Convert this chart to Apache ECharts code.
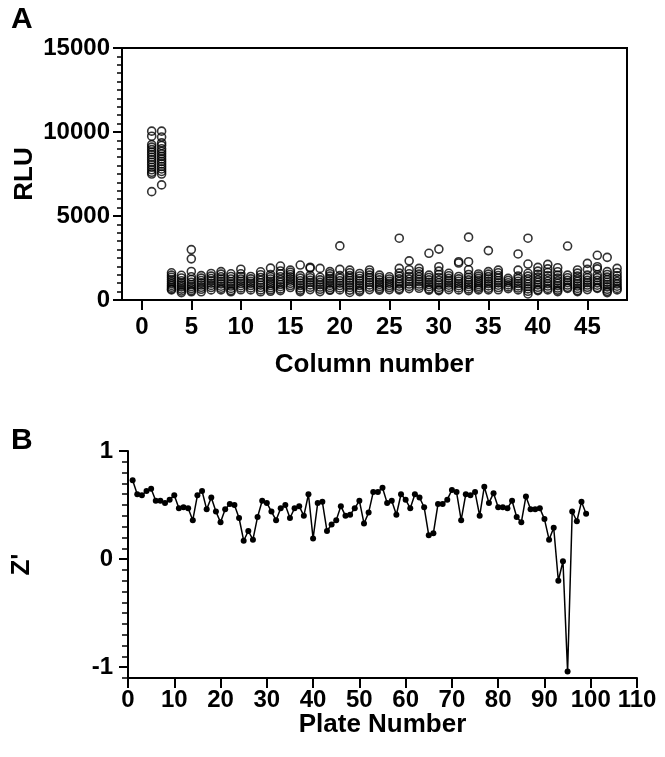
<!DOCTYPE html>
<html>
<head>
<meta charset="utf-8">
<script src="https://cdn.jsdelivr.net/npm/echarts@6/dist/echarts.min.js"></script>
<style>
  html, body { margin: 0; padding: 0; background: #fff; }
  #chart { width: 665px; height: 757px; }
</style>
</head>
<body>
<div id="chart"></div>
<script>
  // panel A: RLU per well, one list per column (column number = index + 1)
  const rluByColumn = [
    [10050, 9750, 9250, 9100, 8950, 8800, 8650, 8500, 8350, 8200, 8050, 7900, 7750, 7600, 7500, 6450],
    [10050, 9700, 9350, 9200, 9000, 8850, 8700, 8550, 8400, 8250, 8100, 7950, 7800, 7650, 7500, 6850],
    [1620, 1480, 1350, 1220, 1100, 980, 870, 760, 660, 600],
    [1470, 1310, 1150, 1020, 900, 780, 650, 540, 440],
    [3000, 2450, 1700, 1380, 1220, 1060, 920, 800, 680, 560, 490],
    [1450, 1300, 1160, 1020, 890, 760, 640, 490],
    [1580, 1420, 1280, 1140, 1000, 870, 740, 600],
    [1690, 1540, 1380, 1240, 1100, 960, 820, 700, 600],
    [1560, 1400, 1250, 1100, 960, 830, 690, 560, 490],
    [1830, 1560, 1400, 1250, 1120, 980, 850, 720, 610],
    [1400, 1260, 1120, 990, 860, 720, 600],
    [1680, 1500, 1340, 1180, 1030, 880, 740, 600, 490],
    [1900, 1520, 1380, 1250, 1120, 990, 860, 730, 610, 520],
    [2020, 1730, 1560, 1380, 1210, 1060, 920, 790, 660, 560],
    [1780, 1650, 1520, 1380, 1250, 1120, 990, 860, 740],
    [2080, 1450, 1300, 1150, 1000, 860, 720, 590, 500],
    [1950, 1900, 1460, 1320, 1180, 1040, 900, 760, 620],
    [1880, 1350, 1200, 1050, 910, 770, 640, 500],
    [1690, 1560, 1420, 1280, 1140, 1000, 870, 740, 620, 580],
    [3220, 1820, 1450, 1300, 1150, 1000, 860, 720, 600],
    [1780, 1620, 1450, 1300, 1160, 1020, 880, 740, 590, 450],
    [1580, 1430, 1280, 1140, 1000, 860, 720, 590, 500],
    [1790, 1640, 1480, 1330, 1180, 1040, 900, 760, 620],
    [1480, 1340, 1200, 1060, 930, 800, 680, 590],
    [1380, 1250, 1120, 990, 860, 740, 620],
    [3680, 1880, 1600, 1420, 1260, 1100, 960, 820, 680, 600],
    [2330, 1800, 1560, 1400, 1240, 1090, 950, 810, 680],
    [1880, 1700, 1540, 1380, 1230, 1090, 950, 820, 700],
    [2780, 1480, 1340, 1200, 1060, 920, 790, 660, 590],
    [3030, 1980, 1720, 1520, 1340, 1180, 1030, 890, 750, 620, 560],
    [1590, 1440, 1290, 1150, 1010, 880, 750, 620],
    [2280, 2200, 1400, 1260, 1120, 980, 850, 720, 600],
    [3740, 2280, 1800, 1520, 1350, 1200, 1060, 920, 790, 660, 560],
    [1550, 1420, 1290, 1160, 1040, 920, 800, 700, 600],
    [2940, 1690, 1540, 1390, 1250, 1110, 970, 840, 700, 600],
    [1780, 1620, 1460, 1310, 1160, 1020, 880, 740, 610],
    [1290, 1160, 1030, 900, 780, 680],
    [2740, 1780, 1420, 1270, 1120, 980, 840, 710, 600],
    [3680, 2140, 1590, 1420, 1260, 1100, 950, 800, 660, 520, 360],
    [1940, 1720, 1530, 1360, 1200, 1050, 900, 760, 620, 560],
    [2120, 1850, 1640, 1450, 1280, 1120, 970, 830, 690, 600],
    [1920, 1680, 1480, 1300, 1140, 990, 850, 710, 590, 500],
    [3210, 1480, 1320, 1170, 1030, 890, 760, 690],
    [1790, 1600, 1420, 1260, 1110, 970, 830, 690, 560, 500],
    [2180, 1820, 1480, 1320, 1170, 1030, 890, 760, 620],
    [2660, 1980, 1850, 1500, 1330, 1170, 1020, 880, 740, 690],
    [2540, 1690, 1520, 1360, 1210, 1060, 920, 780, 640, 520, 440],
    [1880, 1640, 1440, 1270, 1110, 960, 820, 690, 600]
  ];
  const columnTicks = [0, 5, 10, 15, 20, 25, 30, 35, 40, 45];

  // panel B: Z' per plate (plate number = index + 1)
  const zPrime = [
    0.73, 0.60, 0.59, 0.63, 0.65, 0.54, 0.54, 0.52, 0.55, 0.59,
    0.47, 0.48, 0.47, 0.36, 0.59, 0.63, 0.46, 0.57, 0.44, 0.34,
    0.46, 0.51, 0.50, 0.38, 0.17, 0.26, 0.18, 0.39, 0.54, 0.52,
    0.44, 0.36, 0.47, 0.50, 0.38, 0.47, 0.49, 0.40, 0.60, 0.19,
    0.52, 0.53, 0.26, 0.32, 0.36, 0.49, 0.40, 0.41, 0.47, 0.54,
    0.33, 0.43, 0.62, 0.62, 0.66, 0.52, 0.54, 0.41, 0.60, 0.55,
    0.47, 0.60, 0.57, 0.48, 0.22, 0.24, 0.51, 0.51, 0.55, 0.64,
    0.62, 0.36, 0.60, 0.59, 0.62, 0.40, 0.67, 0.52, 0.61, 0.48,
    0.48, 0.47, 0.54, 0.39, 0.34, 0.58, 0.46, 0.46, 0.47, 0.37,
    0.18, 0.29, -0.20, -0.02, -1.04, 0.44, 0.35, 0.53, 0.42
  ];
  const zMajorTicks = [-1, 0, 1];

  const rluPoints = [];
  rluByColumn.forEach((vals, i) => {
    vals.forEach(v => rluPoints.push([i + 1, v]));
  });
  const zPoints = zPrime.map((v, i) => [i + 1, v]);

  const font = 'Liberation Sans, Arial, sans-serif';
  const labelStyle = { color: '#000', fontWeight: 'bold', fontSize: 24, fontFamily: font };
  const nameStyle = { color: '#000', fontWeight: 'bold', fontSize: 26, fontFamily: font };
  const blackLine = { color: '#000', width: 2 };
  const plain = v => String(v);

  let myChart = echarts.init(document.getElementById('chart'));
  myChart.setOption({
    animation: false,
    backgroundColor: '#fff',
    title: [
      { text: 'A', left: 6, top: 0, textStyle: { color: '#000', fontSize: 30, fontWeight: 'bold', fontFamily: font } },
      { text: 'B', left: 6, top: 421, textStyle: { color: '#000', fontSize: 30, fontWeight: 'bold', fontFamily: font } }
    ],
    grid: [
      { left: 122, top: 48, width: 505, height: 252, show: true, borderColor: '#000', borderWidth: 2 },
      { left: 128, top: 451, width: 509, height: 227 }
    ],
    xAxis: [
      {
        gridIndex: 0, type: 'value', min: -2, max: 49,
        axisLine: { onZero: false, lineStyle: blackLine },
        axisTick: { customValues: columnTicks, length: 10, lineStyle: blackLine },
        axisLabel: Object.assign({ customValues: columnTicks, margin: 15, formatter: plain }, labelStyle),
        splitLine: { show: false },
        name: 'Column number', nameLocation: 'middle', nameGap: 52, nameMoveOverlap: false,
        nameTextStyle: nameStyle
      },
      {
        gridIndex: 1, type: 'value', min: 0, max: 110, interval: 10,
        axisLine: { onZero: false, lineStyle: blackLine },
        axisTick: { length: 10, lineStyle: blackLine },
        axisLabel: Object.assign({ margin: 10, formatter: plain }, labelStyle),
        splitLine: { show: false },
        name: 'Plate Number', nameLocation: 'middle', nameGap: 34, nameMoveOverlap: false,
        nameTextStyle: nameStyle
      }
    ],
    yAxis: [
      {
        gridIndex: 0, type: 'value', min: 0, max: 15000, interval: 5000,
        axisLine: { show: true, onZero: false, lineStyle: blackLine },
        axisTick: { show: true, length: 9, lineStyle: blackLine },
        minorTick: { show: true, splitNumber: 10, length: 5, lineStyle: { color: '#000', width: 1.5 } },
        axisLabel: Object.assign({ margin: 12, formatter: plain }, labelStyle),
        splitLine: { show: false },
        name: 'RLU', nameLocation: 'middle', nameGap: 84, nameMoveOverlap: false,
        nameTextStyle: nameStyle
      },
      {
        gridIndex: 1, type: 'value', min: -1.1, max: 1, position: 'left',
        axisLine: { show: true, onZero: false, lineStyle: blackLine },
        axisTick: { show: true, customValues: zMajorTicks, length: 9, lineStyle: blackLine },
        axisLabel: Object.assign({ customValues: zMajorTicks, margin: 15, formatter: plain }, labelStyle),
        splitLine: { show: false },
        name: "Z'", nameLocation: 'middle', nameGap: 93, nameMoveOverlap: false,
        nameTextStyle: nameStyle
      },
      {
        gridIndex: 1, type: 'value', min: -1.1, max: 1, interval: 0.1, position: 'left',
        axisLine: { show: false, onZero: false },
        axisTick: { show: true, length: 6, lineStyle: { color: '#000', width: 1.5 } },
        axisLabel: { show: false },
        splitLine: { show: false }
      }
    ],
    series: [
      {
        name: 'RLU', type: 'scatter', xAxisIndex: 0, yAxisIndex: 0,
        symbol: 'circle', symbolSize: 8,
        itemStyle: { color: 'rgba(0,0,0,0)', borderColor: '#000', borderWidth: 1.6 },
        data: rluPoints
      },
      {
        name: "Z'", type: 'line', xAxisIndex: 1, yAxisIndex: 1,
        symbol: 'circle', symbolSize: 6, showAllSymbol: true,
        itemStyle: { color: '#000' },
        lineStyle: { color: '#000', width: 1.5 },
        data: zPoints
      }
    ]
  });
</script>
</body>
</html>
